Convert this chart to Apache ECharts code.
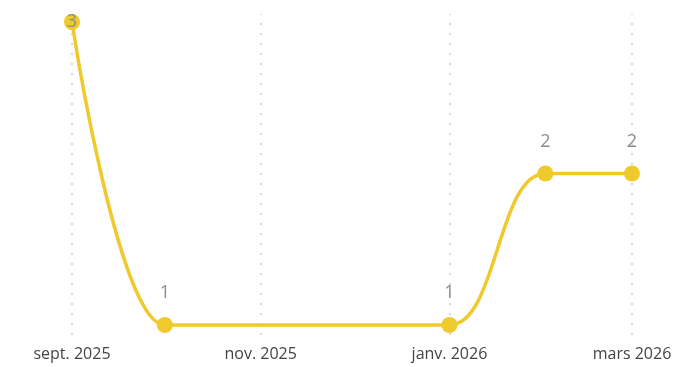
<!DOCTYPE html>
<html>
<head>
<meta charset="utf-8">
<script src="https://cdn.jsdelivr.net/npm/echarts@6/dist/echarts.min.js"></script>
<style>
  html, body { margin: 0; padding: 0; background: #fff; }
  #chart { width: 682px; height: 367px; }
</style>
</head>
<body>
<div id="chart"></div>
<script>
// points (first day of each month)
const dates = ['2025-09-01', '2025-10-01', '2026-01-01', '2026-02-01', '2026-03-01']
const values = [3, 1, 1, 2, 2]

// x axis ticks
const tickDates = ['2025-09-01', '2025-11-01', '2026-01-01', '2026-03-01']
const tickLabels = ['sept. 2025', 'nov. 2025', 'janv. 2026', 'mars 2026']

const yellow = '#f0c92c'
const chart = echarts.init(document.getElementById('chart'))

const seriesData = dates.map((d, i) => {
  const item = { value: [d, values[i]] }
  // top point: label sits inside the marker
  if (values[i] === Math.max(...values)) {
    item.label = { position: 'inside', distance: 0 }
  }
  return item
})

const option = {
  animation: false,
  grid: { left: 72, right: 50, top: 14, bottom: 32 },
  xAxis: {
    type: 'time',
    min: '2025-09-01',
    max: '2026-03-01',
    axisLine: { show: false },
    axisTick: { show: false },
    axisLabel: { show: false },
    splitLine: { show: false }
  },
  yAxis: {
    type: 'value',
    min: 0.934,
    max: 3.053,
    show: false
  },
  series: [
    {
      type: 'line',
      data: seriesData,
      smooth: 0.5,
      smoothMonotone: 'x',
      symbol: 'circle',
      symbolSize: 16,
      clip: false,
      itemStyle: { color: yellow },
      lineStyle: { color: yellow, width: 3.5 },
      label: {
        show: true,
        position: 'top',
        distance: 15,
        color: '#8c8c8c',
        fontSize: 18,
        fontFamily: 'Open Sans'
      },
      markLine: {
        silent: true,
        symbol: 'none',
        z: 1,
        lineStyle: { color: '#c9dde4', type: [2, 8], width: 2 },
        label: {
          show: true,
          position: 'start',
          distance: 11,
          color: '#444',
          fontSize: 16,
          fontFamily: 'Open Sans',
          formatter: p => tickLabels[p.dataIndex]
        },
        data: tickDates.map(d => ({ xAxis: d }))
      }
    }
  ]
}
chart.setOption(option)
</script>
</body>
</html>
